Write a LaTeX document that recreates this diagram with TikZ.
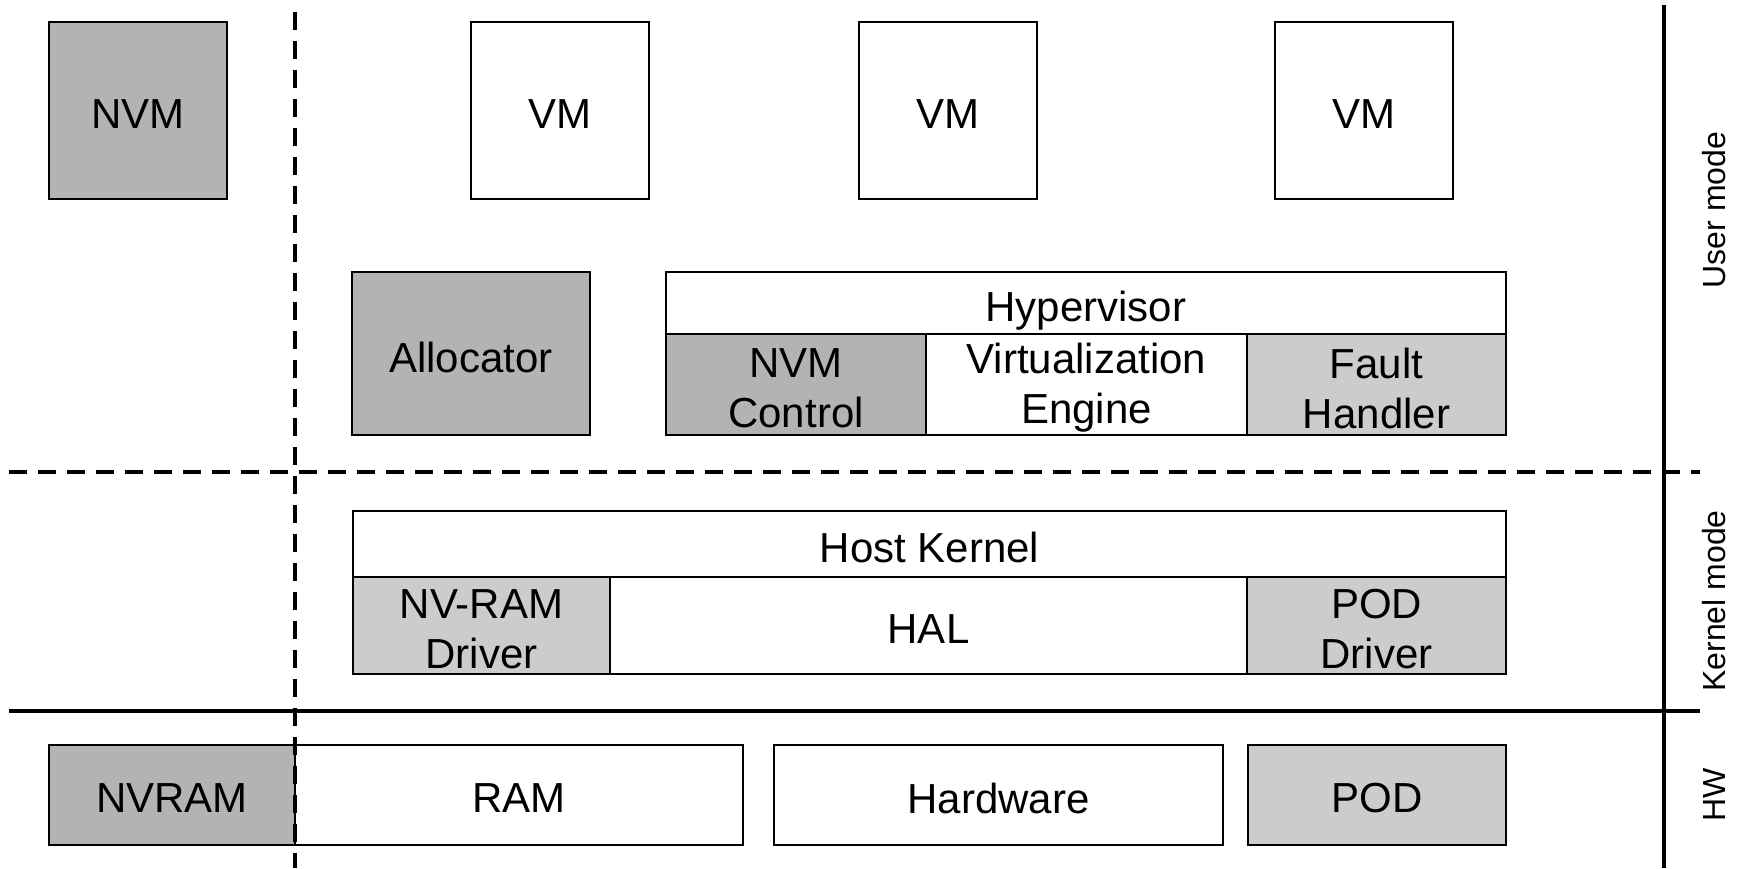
\documentclass[tikz,border=0pt]{standalone}
\usepackage{fontspec}
\setmainfont{Liberation Sans}
\definecolor{darkfill}{HTML}{B3B3B3}
\definecolor{lightfill}{HTML}{CCCCCC}
\newcommand\bxnode[8][-3.5pt]{%
  \pgfmathsetmacro\bxcx{(#4+#6)/2}\pgfmathsetmacro\bxcy{(#5+#7)/2}%
  \pgfmathsetmacro\bxww{#6-#4}\pgfmathsetmacro\bxhh{#7-#5}%
  \node[box,#3,minimum width=\bxww pt,minimum height=\bxhh pt] (#2) at (\bxcx,\bxcy) {};
  \node[boxtext,yshift=#1] (#2-t) at (#2.center) {#8};}
\begin{document}
\begin{tikzpicture}[x=1pt,y=-1pt,
  box/.style={draw, line width=1.8pt, inner sep=0pt, fill=white},
  boxtext/.style={inner sep=0pt, align=center, font=\fontsize{42}{50}\selectfont},
  dark/.style={fill=darkfill},
  light/.style={fill=lightfill},
  sepdash/.style={line width=3.3pt, dash pattern=on 18pt off 11pt},
  sepsolid/.style={line width=3.6pt},
  side/.style={rotate=90, font=\fontsize{32}{38}\selectfont, inner sep=0pt}]
\fill[white] (0,0) rectangle (1744,868);
\useasboundingbox (0,0) rectangle (1744,868);
% user mode
\bxnode{nvm}{dark}{49}{22}{227}{199}{NVM}
\bxnode{vma}{}{471}{22}{649}{199}{VM}
\bxnode{vmb}{}{859}{22}{1037}{199}{VM}
\bxnode{vmc}{}{1275}{22}{1453}{199}{VM}
\bxnode{alloc}{dark}{352}{272}{590}{435}{Allocator}
\bxnode[-8pt]{hyp}{}{666}{272}{1506}{334}{Hypervisor}
\bxnode{nvmc}{dark}{666}{334}{926}{435}{NVM\\Control}
\bxnode{virt}{}{926}{334}{1247}{435}{Virtualization\\Engine}
\bxnode{fault}{light}{1247}{334}{1506}{435}{Fault\\Handler}
% kernel mode
\bxnode{hk}{}{353}{511}{1506}{577}{Host Kernel}
\bxnode{nvrd}{light}{353}{577}{610}{674}{NV-RAM\\Driver}
\bxnode{hal}{}{610}{577}{1247}{674}{HAL}
\bxnode{podd}{light}{1247}{577}{1506}{674}{POD\\Driver}
% hardware
\bxnode{nvram}{dark}{49}{745}{295}{845}{NVRAM}
\bxnode{ram}{}{295}{745}{743}{845}{RAM}
\bxnode{hw}{}{774}{745}{1223}{845}{Hardware}
\bxnode{pod}{light}{1248}{745}{1506}{845}{POD}
% separators
\coordinate (hdl) at (9,472);
\coordinate (hdr) at (1700,472);
\coordinate (hsl) at (9,711);
\coordinate (hsr) at (1700,711);
\coordinate (vdt) at (295,12);
\coordinate (vdb) at (295,868);
\coordinate (vst) at (1664,5);
\coordinate (vsb) at (1664,868);
\draw[sepdash] (hdl) -- (hdr);
\draw[sepsolid] (hsl) -- (hsr);
\draw[sepsolid] (vst) -- (vsb);
\draw[sepdash] (vdt) -- (vdb);
% side labels
\node[side] (um) at (1714,210) {User mode};
\node[side] (km) at (1714,601) {Kernel mode};
\node[side] (hwl) at (1714,795) {HW};
\end{tikzpicture}
\end{document}
